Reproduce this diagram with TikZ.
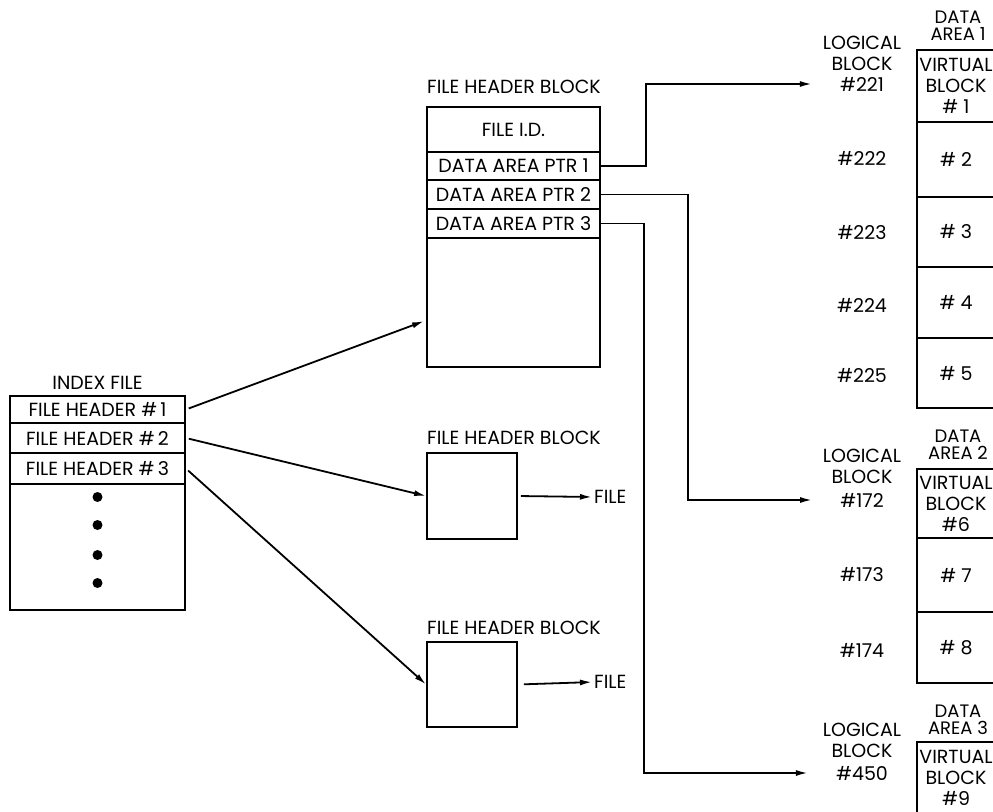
\documentclass[tikz,border=0pt]{standalone}
\usepackage{fontspec}
\setmainfont{Poppins}
\usetikzlibrary{arrows.meta,calc}

\begin{document}
\begin{tikzpicture}[x=1pt,y=-1pt,
    lbl/.style={font=\fontsize{19}{21}\selectfont, inner sep=0pt, align=center},
    darea/.style={font=\fontsize{18}{17}\selectfont, inner sep=0pt, align=center},
    cell/.style={draw, line width=1.8pt, inner sep=0pt, lbl},
    idx/.style={cell, minimum width=175pt},
    hdr/.style={cell, minimum width=173pt},
    virt/.style={cell, minimum width=78pt},
    arr/.style={line width=1.8pt, -{Latex[length=12pt,width=6pt]}}]
  \useasboundingbox (0,0) rectangle (993,811);
  \node[lbl] (idxlbl) at (97.5,383) {INDEX FILE};
  \node[idx, minimum height=27pt] (ih1) at (97.5,409.5) {FILE HEADER \#\,1};
  \node[idx, minimum height=30pt] (ih2) at (97.5,438) {FILE HEADER \#\,2};
  \node[idx, minimum height=31pt] (ih3) at (97.5,468.5) {FILE HEADER \#\,3};
  \node[idx, minimum height=126pt] (ibody) at (97.5,547) {};
  \foreach \y in {497,525,555,583}
    \fill (97.5,\y) circle (5pt);

  \node[lbl, anchor=west] (hlbl1) at (427,87) {FILE HEADER BLOCK};
  \node[hdr, minimum height=45pt] (fid) at (513.5,129.5) {FILE I.D.};
  \node[hdr, minimum height=28pt] (ptr1) at (513.5,166) {DATA AREA PTR 1};
  \node[hdr, minimum height=29pt] (ptr2) at (513.5,194.5) {DATA AREA PTR 2};
  \node[hdr, minimum height=29pt] (ptr3) at (513.5,223.5) {DATA AREA PTR 3};
  \node[hdr, minimum height=129pt] (hbody) at (513.5,302.5) {};

  \node[lbl, anchor=west] (hlbl2) at (427,438) {FILE HEADER BLOCK};
  \node[cell, minimum width=90pt, minimum height=86pt] (hb2) at (472,496) {};
  \node[lbl, anchor=west] (file2) at (594,497) {FILE};
  \node[lbl, anchor=west] (hlbl3) at (427,628) {FILE HEADER BLOCK};
  \node[cell, minimum width=90pt, minimum height=85pt] (hb3) at (472,684.5) {};
  \node[lbl, anchor=west] (file3) at (594,682) {FILE};

  \draw[arr, shorten <=3pt] (ih1.east) -- ($(hbody.north west)+(-2,84)$);
  \draw[arr, shorten <=3pt] (ih2.east) -- (hb2.west);
  \draw[arr, shorten <=3pt] (ih3.east) -- (hb3.west);
  \draw[arr, shorten <=3pt, shorten >=2pt] (hb2.east) -- (file2.west);
  \draw[arr, shorten <=6pt, shorten >=2pt] (hb3.east) -- (file3.west);

  \node[darea] (da1) at (958,26) {DATA\\AREA 1};
  \node[lbl] (lbtop1) at (862,53) {LOGICAL\\BLOCK};
  \node[lbl] (lb221) at (862,84) {\#221};
  \node[virt, minimum height=72pt] (v1) at (956,86) {VIRTUAL\\BLOCK\\\# 1};
  \node[virt, minimum height=75pt] (v2) at (956,159.5) {\# 2};
  \node[virt, minimum height=70pt] (v3) at (956,232) {\# 3};
  \node[virt, minimum height=71pt] (v4) at (956,302.5) {\# 4};
  \node[virt, minimum height=70pt] (v5) at (956,373) {\# 5};
  \node[lbl] (lb222) at (862,158) {\#222};
  \node[lbl] (lb223) at (862,233) {\#223};
  \node[lbl] (lb224) at (862,305) {\#224};
  \node[lbl] (lb225) at (862,375) {\#225};

  \node[darea] (da2) at (958,445) {DATA\\AREA 2};
  \node[lbl] (lbtop2) at (862,466) {LOGICAL\\BLOCK};
  \node[lbl] (lb172) at (862,500) {\#172};
  \node[virt, minimum height=69pt] (v6) at (956,503.5) {VIRTUAL\\BLOCK\\\#6};
  \node[virt, minimum height=74pt] (v7) at (956,575) {\# 7};
  \node[virt, minimum height=71pt] (v8) at (956,647.5) {\# 8};
  \node[lbl] (lb173) at (862,575) {\#173};
  \node[lbl] (lb174) at (862,650) {\#174};

  \node[darea] (da3) at (958,720) {DATA\\AREA 3};
  \node[lbl] (lbtop3) at (862,740) {LOGICAL\\BLOCK};
  \node[lbl] (lb450) at (862,773) {\#450};
  \node[virt, minimum height=76pt] (v9) at (956,780) {};
  \node[lbl] (vb9) at (956,778) {VIRTUAL\\BLOCK\\\#9};

  \draw[arr, shorten >=28pt] (ptr1.east) -- ++(45,0) |- (lb221);
  \draw[arr, shorten >=28pt] (ptr2.east) -- ++(87,0) |- (lb172);
  \draw[arr, shorten >=28pt] (ptr3.east) -- ++(43,0) |- (lb450);
\end{tikzpicture}
\end{document}
